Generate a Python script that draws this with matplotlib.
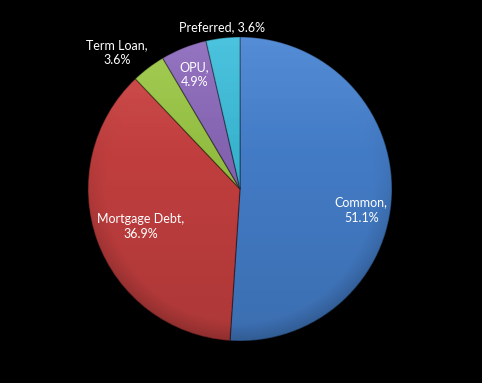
import numpy as np
import matplotlib
matplotlib.use("Agg")
import matplotlib.pyplot as plt
from matplotlib.patches import Circle

# datos del grafico
categorias = ["Common", "Mortgage Debt", "Term Loan", "OPU", "Preferred"]
valores = [51.1, 36.9, 3.6, 4.9, 3.6]
etiquetas = ["Common,\n51.1%", "Mortgage Debt,\n36.9%", "Term Loan,\n3.6%",
             "OPU,\n4.9%", "Preferred, 3.6%"]
colores = ["#4783D2", "#CD4242", "#9CC946", "#8C69BC", "#3DBEDC"]

# posicion de etiquetas: (distancia radial, desplazamiento angular en grados)
pos_etiquetas = [(0.81, -8), (0.70, 1), (1.21, 5), (0.81, 0), (1.07, 0)]

plt.rcParams["font.family"] = ["Lato", "DejaVu Sans"]

fig = plt.figure(figsize=(4.82, 3.83), dpi=100, facecolor="black")
ax = fig.add_axes([88 / 482, (383 - 341) / 383, 304 / 482, 304 / 383])
ax.set_facecolor("black")

wedges, _ = ax.pie(valores, colors=colores, startangle=90, counterclock=False,
                   wedgeprops=dict(edgecolor=(0, 0, 0, 0.35), linewidth=0.9))

# sombreado tipo Excel: claro arriba, oscuro abajo y hacia el borde
n = 400
xs = np.linspace(-1, 1, n)
X, Y = np.meshgrid(xs, xs)
R = np.sqrt(X ** 2 + Y ** 2)
sombra = np.zeros((n, n, 4))
borde = np.clip((R - 0.88) / 0.12, 0, 1) * np.clip((0.6 - Y) / 1.2, 0, 1)
sombra[..., 3] = 0.16 * (1 - Y) / 2 + 0.14 * borde
img = ax.imshow(sombra, extent=(-1, 1, -1, 1), origin="lower", zorder=3,
                interpolation="bilinear")
img.set_clip_path(Circle((0, 0), 1, transform=ax.transData))

luz = np.zeros((n, n, 4))
luz[..., :3] = 1
luz[..., 3] = 0.08 * np.clip((Y - 0.2) / 0.8, 0, 1)
img2 = ax.imshow(luz, extent=(-1, 1, -1, 1), origin="lower", zorder=3,
                 interpolation="bilinear")
img2.set_clip_path(Circle((0, 0), 1, transform=ax.transData))

for w, txt, (dist, dang) in zip(wedges, etiquetas, pos_etiquetas):
    ang = np.deg2rad((w.theta1 + w.theta2) / 2 + dang)
    ax.text(dist * np.cos(ang), dist * np.sin(ang), txt, color="white",
            fontsize=9, ha="center", va="center", linespacing=1.3, zorder=5)

ax.set_xlim(-1, 1)
ax.set_ylim(-1, 1)
ax.set_aspect("auto")
ax.axis("off")

fig.savefig("out.png", dpi=100, facecolor="black")
